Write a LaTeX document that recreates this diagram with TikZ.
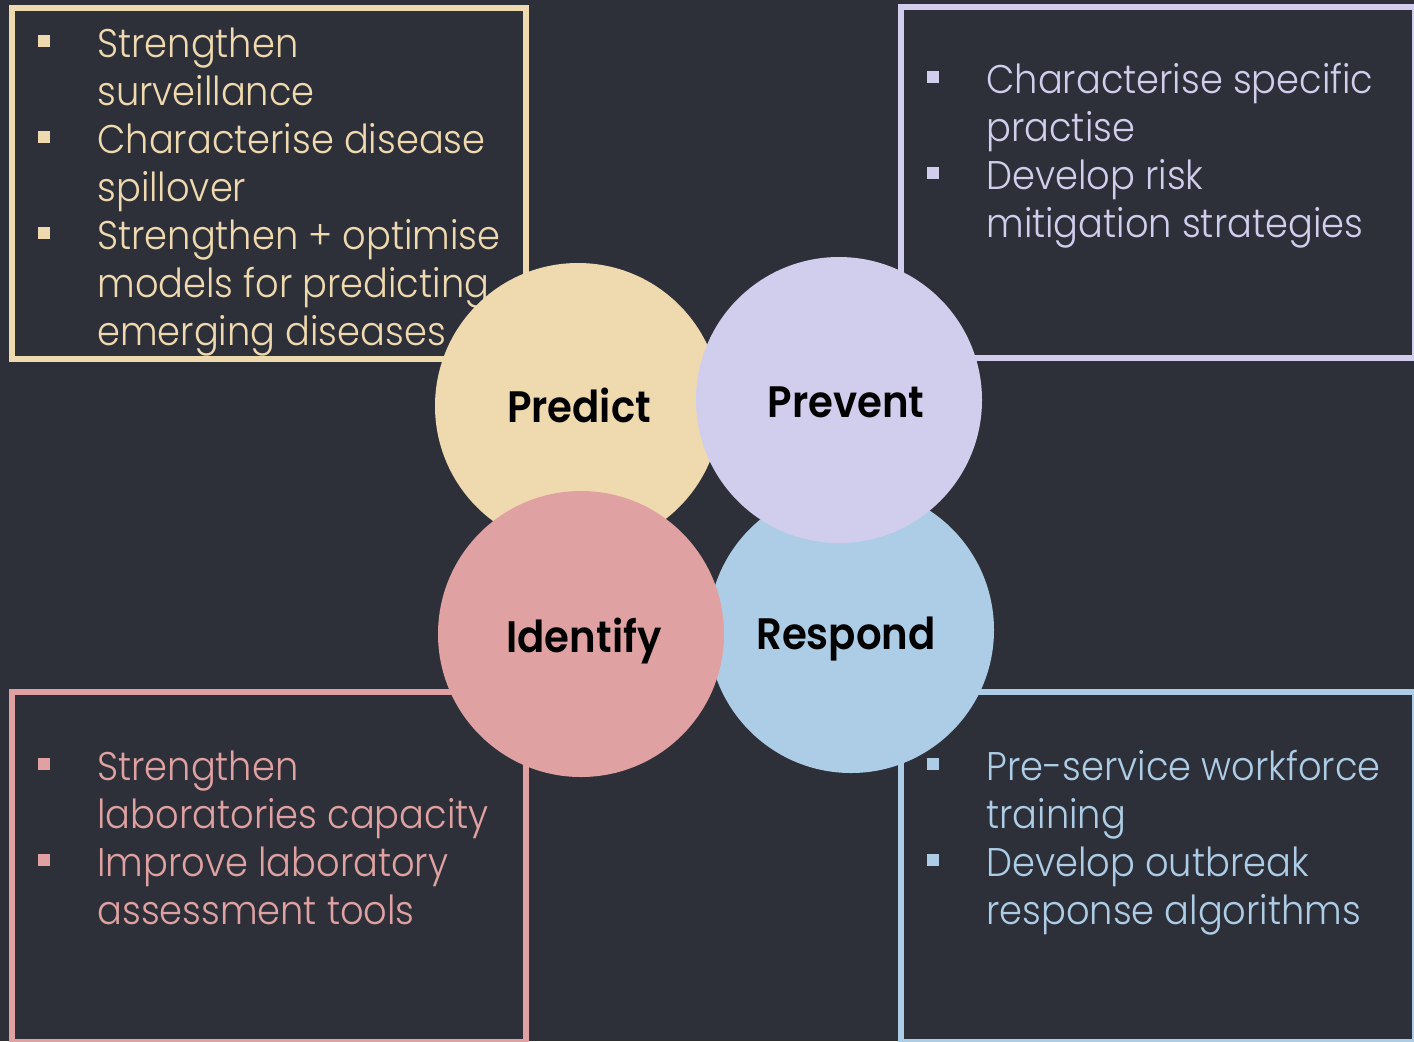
\documentclass[tikz,border=0pt]{standalone}
\usepackage{fontspec}
\setmainfont{Poppins Light}[FakeStretch=0.92]
\newfontfamily\labelfont{Poppins SemiBold}[FakeStretch=0.915]
\usetikzlibrary{positioning}

\definecolor{bgcol}{HTML}{2E3039}
\definecolor{predcol}{HTML}{EFD9AF}
\definecolor{prevcol}{HTML}{D1CDEC}
\definecolor{identcol}{HTML}{DFA1A1}
\definecolor{respcol}{HTML}{ADCDE6}

% square bullet and the indent of a wrapped line
\newcommand{\sqbul}{\makebox[29.5pt][l]{\rule[4.9pt]{6pt}{6pt}}}
\newcommand{\indnt}{\hspace*{29.5pt}}

\begin{document}
\begin{tikzpicture}[x=0.5pt,y=-0.5pt]
  \tikzstyle{panel}=[line width=3pt]
  \tikzstyle{disc}=[circle,minimum size=143pt,inner sep=0pt]
  \tikzstyle{tag}=[anchor=base,inner sep=0pt,text=black,
                   font=\labelfont\fontsize{22}{24}\selectfont]
  % lists are placed by the baseline of their last line
  \tikzstyle{list}=[anchor=base west,inner sep=0pt,align=left,
                    font=\fontsize{20}{24}\selectfont]

  \useasboundingbox (0,0) rectangle (1414,1041);
  \fill[bgcol] (0,0) rectangle (1414,1041);

  % boxes
  \draw[panel,draw=predcol]  (12,8)    rectangle (525.5,358.5);
  \draw[panel,draw=prevcol]  (901,7)   rectangle (1414.5,358);
  \draw[panel,draw=identcol] (12,692)  rectangle (525.5,1042);
  \draw[panel,draw=respcol]  (901,692) rectangle (1414.5,1042);

  \node[list,text=predcol] (predlist) at (38,345)
    {\sqbul Strengthen\\
     \indnt surveillance\\
     \sqbul Characterise disease\\
     \indnt spillover\\
     \sqbul Strengthen + optimise\\
     \indnt models for predicting\\
     \indnt emerging diseases};
  \node[list,text=prevcol] (prevlist) at (927,237)
    {\sqbul Characterise specific\\
     \indnt practise\\
     \sqbul Develop risk\\
     \indnt mitigation strategies};
  \node[list,text=identcol] (identlist) at (38,924)
    {\sqbul Strengthen\\
     \indnt laboratories capacity\\
     \sqbul Improve laboratory\\
     \indnt assessment tools};
  \node[list,text=respcol] (resplist) at (927,924)
    {\sqbul Pre-service workforce\\
     \indnt training\\
     \sqbul Develop outbreak\\
     \indnt response algorithms};

  % circles
  \node[disc,fill=predcol]  (predict)  at (578,406) {};
  \node[disc,fill=respcol]  (respond)  at (851,630) {};
  \node[disc,fill=identcol] (identify) at (581,634) {};
  \node[disc,fill=prevcol]  (prevent)  at (839,400) {};

  \node[tag] (predtag)  at (579,422) {Predict};
  \node[tag] (prevtag)  at (846,417) {Prevent};
  \node[tag] (identtag) at (584,652) {Identify};
  \node[tag] (resptag)  at (846,649) {Respond};
\end{tikzpicture}
\end{document}
